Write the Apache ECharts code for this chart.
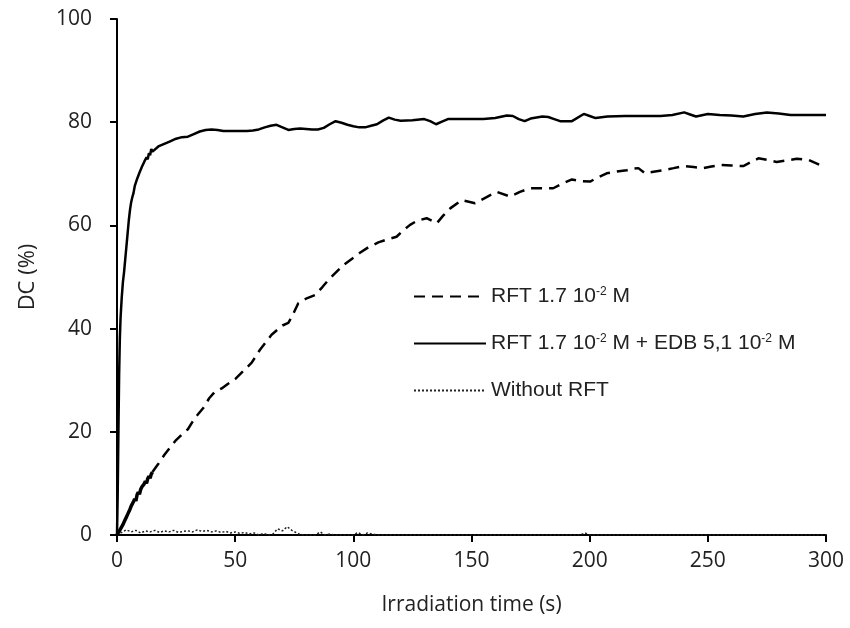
<!DOCTYPE html>
<html>
<head>
<meta charset="utf-8">
<script src="https://cdn.jsdelivr.net/npm/echarts@6/dist/echarts.min.js"></script>
<style>
html,body{margin:0;padding:0;background:#fff;}
#c{width:850px;height:628px;}
</style>
</head>
<body>
<div id="c"></div>
<script>
// ---- data ----
const seriesNames = ['RFT 1.7 10-2 M', 'RFT 1.7 10-2 M + EDB 5,1 10-2 M', 'Without RFT'];
const xTicks = [0, 50, 100, 150, 200, 250, 300];
const yTicks = [0, 20, 40, 60, 80, 100];

// RFT + EDB (solid)
const edbT = [0,0.3,0.6,0.9,1.2,1.5,2,2.5,3,3.5,4,4.5,5,5.5,6,6.5,7,7.5,8,8.5,9,9.5,10,10.5,11,11.5,12,12.5,13,13.5,14,14.5,15,
  17.5,20,22.5,25,27.5,30,32.5,35,37.5,40,42.5,45,47.5,50,55,57.5,60,62.5,65,67.5,70,72.5,75,77.5,80,82.5,85,87.5,90,92.5,95,97.5,100,102.5,105,107.5,110,112.5,115,117.5,120,125,130,132.5,135,137.5,140,145,150,155,160,165,167.5,170,172.5,175,180,182.5,185,187.5,192.5,197.5,200,202.5,207.5,215,230,235,240,242.5,245,250,255,260,265,270,275,280,285,290,300];
const edbV = [0,8,20,31,38,42,46,49,51,53.5,56,58.5,61,63,64.5,65.5,66.3,67.6,67.4,69,68.8,70.2,70,71.3,71,72.3,72,73.2,72.8,74,73.6,74.8,74.3,
  75.3,75.8,76.3,76.8,77.1,77.2,77.7,78.2,78.5,78.6,78.5,78.3,78.3,78.3,78.3,78.4,78.6,79,79.3,79.5,79,78.5,78.7,78.8,78.7,78.6,78.6,78.9,79.6,80.2,79.9,79.5,79.2,79,79,79.3,79.6,80.3,80.9,80.5,80.3,80.4,80.6,80.2,79.6,80.1,80.6,80.6,80.6,80.6,80.8,81.3,81.2,80.6,80.2,80.7,81.1,81,80.6,80.2,80.2,81.6,81.2,80.8,81.1,81.2,81.2,81.4,81.9,81.5,81.1,81.6,81.4,81.3,81.1,81.6,81.9,81.7,81.4,81.4,81.4];

// RFT only: early dense part (drawn continuous) and dashed part
const rftEarlyT = [0,0.5,1,1.5,2,2.5,3,3.5,4,4.5,5,5.5,6,6.5,7,7.5,8,8.5,9,9.5,10,10.5,11,11.5,12,12.5,13,13.5,14,14.5,15];
const rftEarlyV = [0,0.3,0.8,1.2,1.0,2.0,2.5,2.2,3.5,4.0,3.8,5.0,5.6,5.3,6.5,7.0,6.6,7.8,8.3,7.9,8.8,9.3,9.0,9.9,10.4,10.0,10.9,11.4,11.0,11.8,12.2];
const rftT = [15,17.5,20,22.5,25,27.5,30,33,36.5,39,41.5,44.3,47,50,53.5,57,60.5,65.4,70,72.5,74,76.7,80,83.8,87,90,95.8,102.8,106.5,110.6,114.5,118.3,121,124,127,131,135.3,138,141,145.8,151.5,156,160.7,166.3,170.5,174.8,180,184.6,188.5,192.5,196,200.2,203.5,207.2,211,215.7,218,220.6,223.4,227,231.2,235.5,239.6,244,248,251.5,255.1,260,265,268,271.4,275,279.1,283.5,287.6,292.5,297.5,300];
const rftV = [12.2,13.8,15.5,17,18.4,19.5,20.5,22.7,24.6,26.5,27.8,28.4,29.3,30.2,31.8,33.4,35.9,38.8,40.6,41.1,42.3,44.9,45.8,46.5,48.1,49.7,52.3,54.7,55.8,56.7,57.3,57.8,59,60.1,60.9,61.4,60.4,61.9,63.3,64.9,64.3,65.4,66.5,65.6,66.5,67.2,67.2,67.2,68.1,68.9,68.6,68.5,69.3,70.1,70.4,70.7,71,71.1,70.1,70.4,70.7,71.1,71.5,71.3,71.1,71.4,71.7,71.6,71.5,72.2,73,72.7,72.3,72.6,72.9,72.7,71.7,71.6];

// Without RFT (dotted)
const noT = [0,2,4,6,8,10,12,14,16,18,20,22,24,26,28,30,32,34,36,38,40,42,44,46,48,50,52,54,56,58,60,62,64,66,68,70,72,74,76,78,80,82,84,86,88,90,92,94,96,98,100,102,104,106,110,150,196,198,200,250,300];
const noV = [0,0.5,1.0,0.6,0.9,0.4,0.8,0.6,0.9,0.5,0.8,0.6,0.9,0.5,0.7,0.8,0.6,1.0,0.7,0.9,0.6,0.8,0.5,0.7,0.4,0.6,0.3,0.5,0.2,0.4,0,0.3,0,0.2,1.2,0.8,1.6,0.9,0.4,0,0,0,0,0.6,0,0.2,0,0,0,0,0,0.5,0,0.4,0,0,0,0.4,0,0,0];

const zip = (a, b) => a.map((t, i) => [t, b[i]]);

const chart = echarts.init(document.getElementById('c'), null, {renderer: 'canvas'});
const txt = '#222';
const tickFont = 'Open Sans';

function legendFmt(name) {
  return name.split(/( 10-2)/).map(p => p === ' 10-2' ? '{a| 10}{sup|-2}' : (p ? '{a|' + p + '}' : '')).join('');
}

chart.setOption({
  animation: false,
  backgroundColor: '#fff',
  grid: {left: 117, right: 24, top: 19, bottom: 93, containLabel: false},
  legend: {
    data: seriesNames,
    orient: 'vertical',
    left: 408,
    top: 281,
    itemWidth: 72,
    itemHeight: 14,
    itemGap: 26,
    formatter: legendFmt,
    itemStyle: {opacity: 0},
    textStyle: {
      color: txt,
      fontFamily: 'Liberation Sans',
      fontSize: 21,
      rich: {
        a: {fontFamily: 'Liberation Sans', fontSize: 21, color: txt},
        sup: {fontFamily: 'Liberation Sans', fontSize: 12, color: txt, padding: [0, 0, 9, 0]}
      }
    }
  },
  xAxis: {
    type: 'value', min: 0, max: 300, interval: 50,
    name: 'Irradiation time (s)', nameLocation: 'middle', nameGap: 60,
    nameTextStyle: {fontFamily: tickFont, fontSize: 21, color: txt},
    axisLine: {show: true, lineStyle: {color: '#000', width: 2}},
    axisTick: {show: true, length: 7, lineStyle: {color: '#000', width: 2}},
    axisLabel: {fontFamily: tickFont, fontSize: 21, color: txt, margin: 16,
      formatter: v => xTicks.includes(v) ? String(v) : ''},
    splitLine: {show: false}
  },
  yAxis: {
    type: 'value', min: 0, max: 100, interval: 20,
    name: 'DC (%)', nameLocation: 'middle', nameGap: 78, nameRotate: 90,
    nameTextStyle: {fontFamily: tickFont, fontSize: 22, color: txt},
    axisLine: {show: true, lineStyle: {color: '#000', width: 2}},
    axisTick: {show: true, length: 7, lineStyle: {color: '#000', width: 2}},
    axisLabel: {fontFamily: tickFont, fontSize: 21, color: txt, margin: 25,
      formatter: v => yTicks.includes(v) ? String(v) : ''},
    splitLine: {show: false}
  },
  series: [
    {
      name: seriesNames[0], type: 'line', data: zip(rftT, rftV),
      symbol: 'none', showSymbol: false, smooth: false,
      lineStyle: {color: '#000', width: 2.5, type: [11, 7]}, itemStyle: {color: '#000'}, z: 3
    },
    {
      name: seriesNames[1], type: 'line', data: zip(edbT, edbV),
      symbol: 'none', showSymbol: false,
      lineStyle: {color: '#000', width: 2.5, type: 'solid'}, itemStyle: {color: '#000'}, z: 3
    },
    {
      name: seriesNames[2], type: 'line', data: zip(noT, noV),
      symbol: 'none', showSymbol: false,
      lineStyle: {color: '#222', width: 1.5, type: [2, 2]}, itemStyle: {color: '#222'}, z: 2
    },
    {
      name: 'rft-early', type: 'line', data: zip(rftEarlyT, rftEarlyV),
      symbol: 'none', showSymbol: false, legendHoverLink: false,
      lineStyle: {color: '#000', width: 3.5, type: 'solid'}, itemStyle: {color: '#000'}, z: 3
    }
  ]
});
</script>
</body>
</html>
